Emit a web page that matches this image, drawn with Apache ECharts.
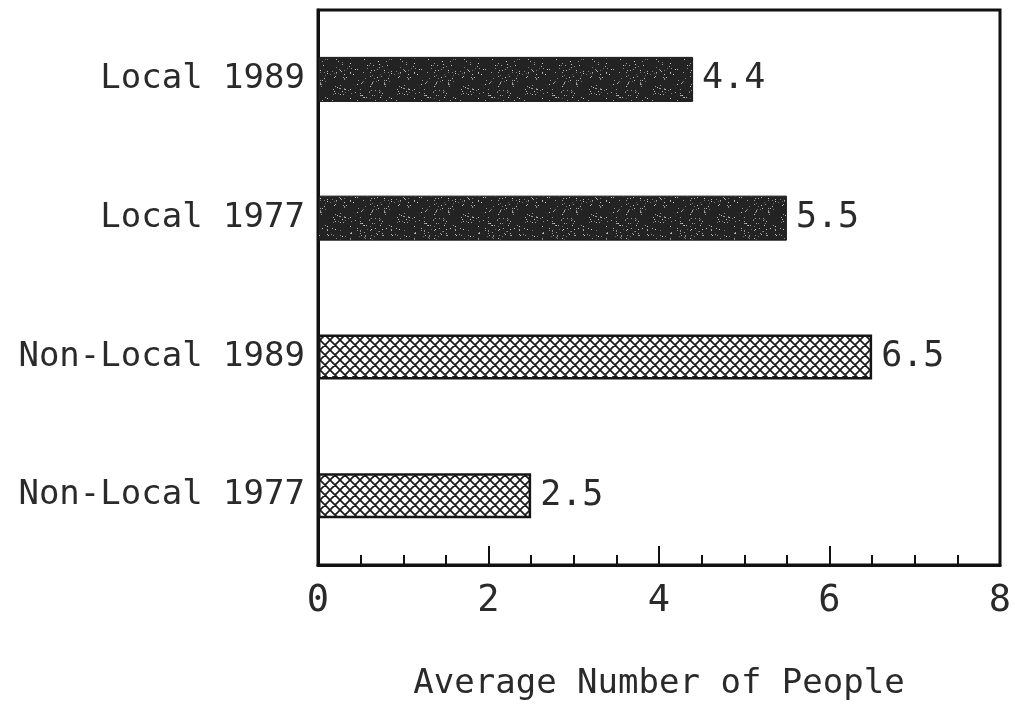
<!DOCTYPE html>
<html>
<head>
<meta charset="utf-8">
<script src="https://cdn.jsdelivr.net/npm/echarts@6/dist/echarts.min.js"></script>
<style>
html,body{margin:0;padding:0;background:#fff;}
#chart{width:1015px;height:704px;}
</style>
</head>
<body>
<div id="chart"></div>
<script>
// ---- data ----
const categories = ['Local 1989', 'Local 1977', 'Non-Local 1989', 'Non-Local 1977'];
const values = [4.4, 5.5, 6.5, 2.5];
const groups = ['local', 'local', 'nonlocal', 'nonlocal'];
const xTicks = [0, 2, 4, 6, 8];
const xTitle = 'Average Number of People';

// ---- textures ----
function stippleTile() {
  const c = document.createElement('canvas');
  c.width = 64; c.height = 64;
  const g = c.getContext('2d');
  g.fillStyle = '#232323';
  g.fillRect(0, 0, 64, 64);
  let s = 12345;
  const next = () => { s = (s * 1103515245 + 12345) & 0x7fffffff; return s / 0x7fffffff; };
  for (let i = 0; i < 220; i++) {
    const x = Math.floor(next() * 64), y = Math.floor(next() * 64);
    const v = 100 + Math.floor(next() * 110);
    g.fillStyle = 'rgb(' + v + ',' + v + ',' + v + ')';
    g.fillRect(x, y, 1, 1);
  }
  return c;
}
function hatchTile() {
  const c = document.createElement('canvas');
  c.width = 10; c.height = 10;
  const g = c.getContext('2d');
  g.fillStyle = '#ffffff';
  g.fillRect(0, 0, 10, 10);
  g.strokeStyle = '#1a1a1a';
  g.lineWidth = 1.7;
  g.beginPath();
  g.moveTo(-1, -1); g.lineTo(11, 11);
  g.moveTo(-1, 11); g.lineTo(11, -1);
  g.moveTo(-6, 4); g.lineTo(4, -6);
  g.moveTo(6, 16); g.lineTo(16, 6);
  g.moveTo(-6, 6); g.lineTo(4, 16);
  g.moveTo(6, -6); g.lineTo(16, 4);
  g.stroke();
  return c;
}
const styles = {
  local: { color: { image: stippleTile(), repeat: 'repeat' }, borderColor: '#151515', borderWidth: 1 },
  nonlocal: { color: { image: hatchTile(), repeat: 'repeat' }, borderColor: '#151515', borderWidth: 2.5 }
};

const FONT = 'DejaVu Sans Mono';
const TXT = '#2a2a2a';

const chart = echarts.init(document.getElementById('chart'));
chart.setOption({
  backgroundColor: '#ffffff',
  animation: false,
  grid: {
    left: 318, right: 15, top: 10, bottom: 139,
    outerBoundsMode: 'none', containLabel: false,
    show: true, borderColor: '#111', borderWidth: 3, backgroundColor: 'transparent'
  },
  xAxis: {
    type: 'value',
    min: xTicks[0], max: xTicks[xTicks.length - 1], interval: xTicks[1] - xTicks[0],
    name: xTitle, nameLocation: 'middle', nameGap: 102,
    nameTextStyle: { fontFamily: FONT, fontSize: 34, color: TXT },
    axisLine: { show: true, lineStyle: { color: '#111', width: 3 } },
    axisTick: { show: true, inside: true, length: 19, lineStyle: { color: '#111', width: 2 } },
    minorTick: { show: true, splitNumber: 4, length: 10, lineStyle: { color: '#111', width: 2 } },
    splitLine: { show: false },
    axisLabel: { fontFamily: FONT, fontSize: 37, color: TXT, margin: 18 }
  },
  yAxis: {
    type: 'category', data: categories, inverse: true,
    axisLine: { show: true, lineStyle: { color: '#111', width: 3 } },
    axisTick: { show: false },
    axisLabel: { fontFamily: FONT, fontSize: 34, color: TXT, margin: 13 }
  },
  series: [{
    type: 'bar',
    barWidth: 45,
    data: values.map((v, i) => ({ value: v, itemStyle: styles[groups[i]] })),
    label: {
      show: true, position: 'right', distance: 9,
      fontFamily: FONT, fontSize: 35, color: TXT,
      formatter: p => p.value.toFixed(1)
    }
  }]
});
</script>
</body>
</html>
